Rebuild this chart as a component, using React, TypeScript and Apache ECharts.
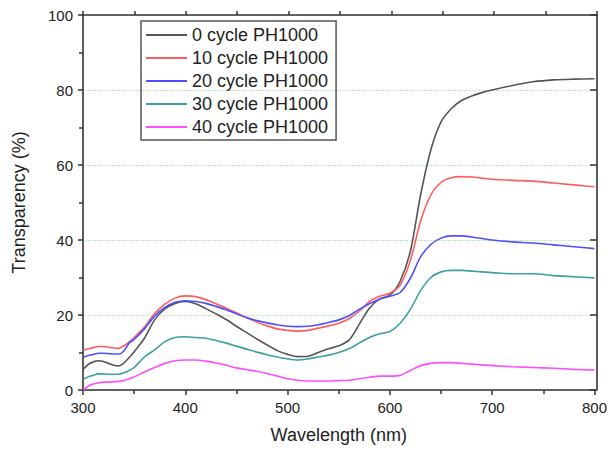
import React, { useEffect, useRef } from "react";
import * as echarts from "echarts";

const wavelengths = [
  300, 305, 310, 315, 320, 325, 330, 335, 340, 345, 350,
  360, 370, 380, 390, 400, 410, 420, 430, 440, 450, 460, 470, 480, 490, 500,
  510, 520, 530, 540, 550, 560, 570, 580, 590, 600, 610, 620, 630, 640, 650,
  660, 670, 680, 690, 700,
  720, 740, 760, 780, 800,
];

const seriesNames = [
  "0 cycle PH1000",
  "10 cycle PH1000",
  "20 cycle PH1000",
  "30 cycle PH1000",
  "40 cycle PH1000",
];

const cycle0 = [
  5.5, 6.8, 7.5, 7.8, 7.6, 7.1, 6.6, 6.4, 7.2, 8.6, 10.2,
  13.8, 18.7, 21.6, 23.1, 23.6, 23.0, 21.7, 20.3, 18.8, 17.0, 15.3, 13.6, 12.0, 10.5, 9.5,
  8.9, 9.0, 10.0, 11.0, 11.8, 13.3, 17.5, 21.8, 24.3, 25.3, 29.0, 37.0, 52.0, 64.0, 71.5,
  75.0, 77.2, 78.4, 79.3, 80.0,
  81.2, 82.2, 82.7, 82.9, 83.0,
];

const cycle10 = [
  10.5, 11.0, 11.3, 11.6, 11.6, 11.4, 11.2, 11.1, 11.8, 12.8, 14.0,
  16.8, 20.4, 22.9, 24.5, 25.1, 24.9, 24.1, 23.0, 21.8, 20.6, 19.3, 18.1, 17.1, 16.3, 15.9,
  15.7, 15.9, 16.5, 17.1, 17.8, 19.0, 21.0, 23.6, 25.0, 25.8, 28.0, 34.5, 45.0, 52.0, 55.4,
  56.6, 56.9, 56.8, 56.5, 56.2,
  55.9, 55.7, 55.2, 54.7, 54.2,
];

const cycle20 = [
  8.7, 9.2, 9.5, 9.8, 9.8, 9.7, 9.6, 9.6, 10.4, 12.5, 13.5,
  16.3, 19.7, 22.0, 23.4, 23.8, 23.6, 23.1, 22.3, 21.4, 20.3, 19.3, 18.5, 17.9, 17.4, 17.0,
  16.9, 17.0, 17.4, 18.0, 18.7, 19.8, 21.5, 23.0, 24.2, 25.0, 26.0, 29.8, 35.5, 38.8, 40.5,
  41.1, 41.1, 40.8, 40.4, 40.0,
  39.5, 39.2, 38.7, 38.2, 37.7,
];

const cycle30 = [
  2.8, 3.5, 3.9, 4.3, 4.3, 4.2, 4.2, 4.2, 4.6, 5.2, 6.0,
  8.8, 10.7, 12.9, 14.0, 14.2, 14.0, 13.8, 13.2, 12.5, 11.7, 10.9, 10.1, 9.4, 8.8, 8.3,
  8.0, 8.3, 8.8, 9.3, 10.0, 11.0, 12.5, 14.0, 15.0, 15.6, 17.8, 21.5, 26.5, 30.0, 31.5,
  31.9, 31.9, 31.7, 31.5, 31.3,
  31.0, 31.0, 30.5, 30.2, 29.9,
];

const cycle40 = [
  0.0, 1.0, 1.6, 1.9, 2.1, 2.1, 2.2, 2.3, 2.5, 3.0, 3.5,
  4.8, 6.0, 7.1, 7.8, 8.0, 8.0, 7.7, 7.2, 6.6, 5.9, 5.4, 5.0, 4.4, 3.7, 3.0,
  2.6, 2.4, 2.4, 2.4, 2.5, 2.6, 3.0, 3.4, 3.7, 3.7, 3.9, 5.2, 6.5, 7.1, 7.3,
  7.3, 7.1, 6.9, 6.7, 6.5,
  6.2, 6.0, 5.8, 5.5, 5.3,
];

const seriesValues = [cycle0, cycle10, cycle20, cycle30, cycle40];
const seriesColors = ["#555555", "#ff5c5c", "#4f4fff", "#3f9f9f", "#ff4dff"];

const FONT = "'Liberation Sans', Arial, Helvetica, sans-serif";
const AXIS_COLOR = "#333333";

export default function App() {
  const ref = useRef<HTMLDivElement>(null);

  useEffect(() => {
    if (!ref.current) return;
    const chart = echarts.init(ref.current, undefined, { renderer: "svg" });

    const series: any[] = seriesNames.map((name, si) => ({
      name,
      type: "line",
      xAxisIndex: 0,
      yAxisIndex: 0,
      smooth: 0.3,
      symbol: "none",
      showSymbol: false,
      lineStyle: { color: seriesColors[si], width: 1.6 },
      itemStyle: { color: seriesColors[si] },
      data: wavelengths.map((w, i) => [w, seriesValues[si][i]]),
    }));

    chart.setOption({
      animation: false,
      backgroundColor: "#ffffff",
      textStyle: { fontFamily: FONT },
      grid: [
        { left: 83, right: 13, top: 15, bottom: 61 },
        { left: 83, right: 13, top: 15, bottom: 61 },
      ],
      legend: {
        orient: "vertical",
        left: 141,
        top: 21,
        data: seriesNames.map((n, i) => ({ name: n, itemStyle: { color: seriesColors[i] } })),
        icon: "rect",
        itemWidth: 41,
        itemHeight: 2,
        itemGap: 5,
        padding: [5, 8, 4, 5],
        borderColor: "#555555",
        borderWidth: 1.5,
        borderRadius: 0,
        textStyle: { fontSize: 18, color: "#222222", fontFamily: FONT },
      },
      xAxis: [
        {
          type: "value",
          gridIndex: 0,
          position: "bottom",
          min: 300,
          max: 800,
          interval: 100,
          name: "Wavelength (nm)",
          nameLocation: "middle",
          nameGap: 36,
          nameTextStyle: { fontSize: 18, color: "#222222", fontFamily: FONT },
          axisLine: { show: true, onZero: false, lineStyle: { color: AXIS_COLOR, width: 1.6 } },
          axisTick: { show: true, inside: false, length: 5, lineStyle: { color: AXIS_COLOR, width: 1.5 } },
          minorTick: { show: true, splitNumber: 2, length: 4, lineStyle: { color: AXIS_COLOR, width: 1.5 } },
          axisLabel: { show: true, margin: 10, fontSize: 15, color: "#222222", fontFamily: FONT },
          splitLine: { show: false },
        },
        {
          type: "value",
          gridIndex: 1,
          position: "top",
          min: 300,
          max: 800,
          interval: 50,
          axisLine: { show: true, onZero: false, lineStyle: { color: AXIS_COLOR, width: 1.6 } },
          axisTick: { show: true, inside: false, length: 4, lineStyle: { color: AXIS_COLOR, width: 1.5 } },
          axisLabel: { show: false },
          splitLine: { show: false },
        },
      ],
      yAxis: [
        {
          type: "value",
          gridIndex: 0,
          position: "left",
          min: 0,
          max: 100,
          interval: 20,
          name: "Transparency (%)",
          nameLocation: "middle",
          nameGap: 55,
          nameTextStyle: { fontSize: 18, color: "#222222", fontFamily: FONT },
          axisLine: { show: true, onZero: false, lineStyle: { color: AXIS_COLOR, width: 1.6 } },
          axisTick: { show: true, inside: false, length: 5, lineStyle: { color: AXIS_COLOR, width: 1.5 } },
          minorTick: { show: true, splitNumber: 2, length: 4, lineStyle: { color: AXIS_COLOR, width: 1.5 } },
          axisLabel: { show: true, margin: 10, fontSize: 15, color: "#222222", fontFamily: FONT },
          splitLine: { show: true, lineStyle: { color: "#a6e3a6", type: "dotted", width: 1.2 } },
        },
        {
          type: "value",
          gridIndex: 1,
          position: "right",
          min: 0,
          max: 100,
          interval: 20,
          axisLine: { show: true, onZero: false, lineStyle: { color: AXIS_COLOR, width: 1.6 } },
          axisTick: { show: true, inside: true, length: 7, lineStyle: { color: AXIS_COLOR, width: 1.5 } },
          axisLabel: { show: false },
          splitLine: { show: false },
        },
      ],
      series,
    });

    return () => {
      chart.dispose();
    };
  }, []);

  return (
    <div
      ref={ref}
      style={{ position: "fixed", left: 0, top: 0, width: 610, height: 451, background: "#fff" }}
    />
  );
}
